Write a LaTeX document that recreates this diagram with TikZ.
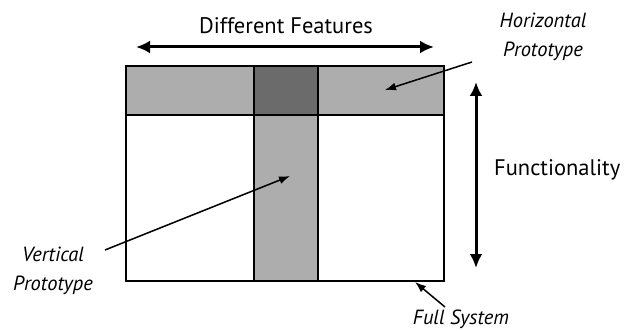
\documentclass[tikz,border=0pt]{standalone}
\usepackage{fontspec}
\setmainfont{PT Sans}
\usetikzlibrary{arrows.meta}
\begin{document}
\begin{tikzpicture}[x=1pt,y=-1pt,
  band/.style={fill=black!32,draw=black,line width=1.4pt},
  cross/.style={fill=black!58,draw=black,line width=1.4pt},
  frame/.style={draw=black,line width=1.5pt},
  bigarrow/.style={line width=3pt,{Latex[length=14pt,width=13pt]}-{Latex[length=14pt,width=13pt]}},
  pointer/.style={line width=1.5pt,-{Latex[length=11pt,width=8pt]}},
  lbl/.style={font=\fontsize{22.5}{26}\selectfont,inner sep=0pt},
  ilbl/.style={font=\itshape\fontsize{20.5}{29}\selectfont,inner sep=0pt,align=center}]
\useasboundingbox (0,0) rectangle (631,331);
% whole system frame and the two prototype bands
\path[band] (126,66) rectangle (444,115);
\path[band] (254,115) rectangle (318,281);
\path[cross] (254,66) rectangle (318,115);
\node[frame,minimum width=318pt,minimum height=215pt,inner sep=0pt] (sys) at (285,173.5) {};
\coordinate (hp) at (385,90);
\coordinate (vp) at (290,176);
% axis labels and arrows
\node[lbl] (feat) at (286,26) {Different Features};
\coordinate (fl) at (136,47);
\coordinate (fr) at (434,47);
\draw[bigarrow] (fl) -- (fr);
\node[lbl,anchor=west] (func) at (494,170) {Functionality};
\coordinate (ft) at (476,82);
\coordinate (fb) at (476,268);
\draw[bigarrow] (ft) -- (fb);
% italic callouts
\node[ilbl] (htext) at (543,37) {Horizontal\\Prototype};
\node[ilbl] (vtext) at (53,271) {Vertical\\Prototype};
\node[ilbl] (ftext) at (461,319) {Full System};
\coordinate (hs) at (472,62);
\coordinate (vs) at (105,250);
\coordinate (fs) at (445,307);
\coordinate (fe) at (415,282);
\draw[pointer] (hs) -- (hp);
\draw[pointer] (vs) -- (vp);
\draw[pointer] (fs) -- (fe);
\end{tikzpicture}
\end{document}
